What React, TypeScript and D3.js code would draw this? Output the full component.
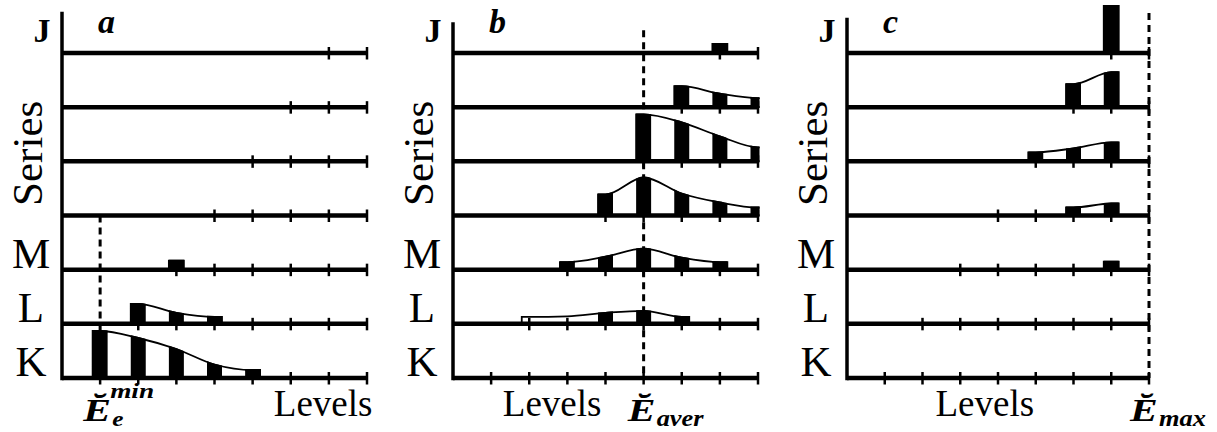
import * as d3 from 'd3';
import { useEffect, useRef } from 'react';

const W = 1217;
const H = 432;

// rows bottom -> top
const ROW_LABELS = ['K', 'L', 'M', '', '', '', 'J'];
const LEVEL_COUNT = 8;

type Row = { row: number; from: number; pop: number[]; noBar?: number[] };

// panel a: populations sit near the lowest level
const ROWS_A: Row[] = [
    { row: 0, from: 1, pop: [0.94, 0.8, 0.58, 0.27, 0.16] },
    { row: 1, from: 2, pop: [0.4, 0.22, 0.14] },
    { row: 2, from: 3, pop: [0.18] },
];

// panel b: populations around the average level
const ROWS_B: Row[] = [
    { row: 1, from: 2, pop: [0.14, 0.15, 0.22, 0.26, 0.14], noBar: [2, 3] },
    { row: 2, from: 3, pop: [0.15, 0.26, 0.42, 0.24, 0.15] },
    { row: 3, from: 4, pop: [0.42, 0.76, 0.44, 0.26, 0.16] },
    { row: 4, from: 5, pop: [0.94, 0.78, 0.5, 0.28] },
    { row: 5, from: 6, pop: [0.42, 0.27, 0.18] },
    { row: 6, from: 7, pop: [0.18] },
];

// panel c: populations pushed to the top level
const ROWS_C: Row[] = [
    { row: 2, from: 7, pop: [0.16] },
    { row: 3, from: 6, pop: [0.16, 0.24] },
    { row: 4, from: 5, pop: [0.18, 0.26, 0.38] },
    { row: 5, from: 6, pop: [0.46, 0.7] },
    { row: 6, from: 7, pop: [0.94] },
];

const PANEL_NAMES = ['a', 'b', 'c'];
const PANEL_ROWS = [ROWS_A, ROWS_B, ROWS_C];
const MARK_LEVEL = [1, 5, 8]; // dashed reference level
const MARK_TOP_ROW = [3, 6.42, 6.74];
const E_SUB = ['e', 'aver', 'max'];
const E_SUP = ['min', '', ''];
const LEVELS_LABEL_AT = [6.85, 2.6, 3.65];

// layout
const PANEL_X0 = [62, 453, 847];
const PANEL_X1 = [367, 758, 1149];
const AXIS_TOP_ROW = [6.76, 6.57, 6.65];

const SERIF = '"Liberation Serif", "Times New Roman", Times, serif';

export default function App() {
    const svgRef = useRef<SVGSVGElement | null>(null);

    useEffect(() => {
        if (!svgRef.current) return;
        const svg = d3.select(svgRef.current);
        svg.selectAll('*').remove();
        svg.attr('width', W).attr('height', H);
        svg.append('rect').attr('width', W).attr('height', H).attr('fill', '#fff');

        const y = d3.scaleLinear().domain([0, 6]).range([378, 53]);
        const h = d3.scaleLinear().domain([0, 1]).range([0, 50]);
        const bw = 15;

        PANEL_NAMES.forEach((name, p) => {
            const x = d3.scaleLinear().domain([0, LEVEL_COUNT]).range([PANEL_X0[p], PANEL_X1[p]]);
            const g = svg.append('g');
            const defs = g.append('defs');
            const clipId = `clip-${name}`;
            defs.append('clipPath')
                .attr('id', clipId)
                .append('rect')
                .attr('x', x(0))
                .attr('y', 0)
                .attr('width', x(LEVEL_COUNT) - x(0) + 1.5)
                .attr('height', H);

            const marks = g.append('g').attr('clip-path', `url(#${clipId})`);

            // dashed reference level
            g.append('line')
                .attr('x1', x(MARK_LEVEL[p]))
                .attr('x2', x(MARK_LEVEL[p]))
                .attr('y1', y(MARK_TOP_ROW[p]))
                .attr('y2', y(0))
                .attr('stroke', '#000')
                .attr('stroke-width', 3)
                .attr('stroke-dasharray', '7,5');

            PANEL_ROWS[p].forEach((r, ri) => {
                const base = y(r.row);
                const pts: [number, number][] = r.pop.map((v, i) => [x(r.from + i), v]);
                const first = pts[0];
                const last = pts[pts.length - 1];
                const all: [number, number][] = [
                    [first[0] - bw / 2, first[1]],
                    ...pts,
                    [last[0] + bw / 2, last[1]],
                ];
                const area = d3
                    .area<[number, number]>()
                    .x((d) => d[0])
                    .y0(base)
                    .y1((d) => base - h(d[1]))
                    .curve(d3.curveMonotoneX);
                const d = area(all) ?? '';

                // white envelope with outline
                marks
                    .append('path')
                    .attr('d', d)
                    .attr('fill', '#fff')
                    .attr('stroke', '#000')
                    .attr('stroke-width', 1.8);

                // black bars = envelope clipped to each level's bar width
                const barClip = `bars-${name}-${ri}`;
                const cp = defs.append('clipPath').attr('id', barClip);
                r.pop.forEach((_, i) => {
                    const k = r.from + i;
                    if (r.noBar?.includes(k)) return;
                    cp.append('rect')
                        .attr('x', x(k) - bw / 2)
                        .attr('y', 0)
                        .attr('width', bw)
                        .attr('height', H);
                });
                marks
                    .append('g')
                    .attr('clip-path', `url(#${barClip})`)
                    .append('path')
                    .attr('d', d)
                    .attr('fill', '#000')
                    .attr('stroke', '#000')
                    .attr('stroke-width', 1.8);
            });

            // level lines + ticks
            ROW_LABELS.forEach((lab, ri) => {
                const base = y(ri);
                g.append('line')
                    .attr('x1', x(0))
                    .attr('x2', x(LEVEL_COUNT))
                    .attr('y1', base)
                    .attr('y2', base)
                    .attr('stroke', '#000')
                    .attr('stroke-width', 4.5);
                d3.range(ri + 1, LEVEL_COUNT + 1).forEach((k) => {
                    g.append('line')
                        .attr('x1', x(k))
                        .attr('x2', x(k))
                        .attr('y1', base - 6)
                        .attr('y2', base + 6.5)
                        .attr('stroke', '#000')
                        .attr('stroke-width', 2.5);
                });
                if (lab === 'J') {
                    g.append('text')
                        .attr('x', x(0) - 20)
                        .attr('y', base - 11)
                        .attr('text-anchor', 'middle')
                        .attr('font-family', SERIF)
                        .attr('font-weight', 700)
                        .attr('font-size', 34)
                        .text(lab);
                } else if (lab) {
                    g.append('text')
                        .attr('x', x(0) - 31)
                        .attr('y', base - 2)
                        .attr('text-anchor', 'middle')
                        .attr('font-family', SERIF)
                        .attr('font-size', 43)
                        .text(lab);
                }
            });

            // vertical axis
            g.append('line')
                .attr('x1', x(0))
                .attr('x2', x(0))
                .attr('y1', y(AXIS_TOP_ROW[p]))
                .attr('y2', y(0) + 2.25)
                .attr('stroke', '#000')
                .attr('stroke-width', 3.5);

            g.append('text')
                .attr('transform', `translate(${x(0) - 20},${(y(5) + y(3)) / 2 - 8}) rotate(-90)`)
                .attr('text-anchor', 'middle')
                .attr('font-family', SERIF)
                .attr('font-size', 43)
                .text('Series');

            g.append('text')
                .attr('x', x(0) + 36)
                .attr('y', 33)
                .attr('font-family', SERIF)
                .attr('font-weight', 700)
                .attr('font-style', 'italic')
                .attr('font-size', 34)
                .text(name);

            g.append('text')
                .attr('x', x(LEVELS_LABEL_AT[p]))
                .attr('y', 416)
                .attr('text-anchor', 'middle')
                .attr('font-family', SERIF)
                .attr('font-size', 37)
                .text('Levels');

            // E label at the reference level (the source glyphs are wide, so stretch in x)
            const ex = x(MARK_LEVEL[p]);
            const label = (tx: number, ty: number, size: number, sx: number, txt: string) =>
                g
                    .append('text')
                    .attr('transform', `translate(${tx},${ty}) scale(${sx},1)`)
                    .attr('font-family', SERIF)
                    .attr('font-weight', 700)
                    .attr('font-style', 'italic')
                    .attr('font-size', size)
                    .text(txt);
            const e0 = p === 0 ? ex - 17 : p === 1 ? ex - 16 : ex - 19;
            label(e0, 421, 32, 1.3, 'Ĕ');
            if (E_SUP[p]) {
                label(ex + 10, 398, 21, 1.3, E_SUP[p]);
                label(ex + 12, 426, 21, 1.2, E_SUB[p]);
            } else {
                label(e0 + 29, 426, 24, 1.1, E_SUB[p]);
            }
        });
    }, []);

    return <svg ref={svgRef} style={{ position: 'fixed', left: 0, top: 0, display: 'block' }} />;
}
